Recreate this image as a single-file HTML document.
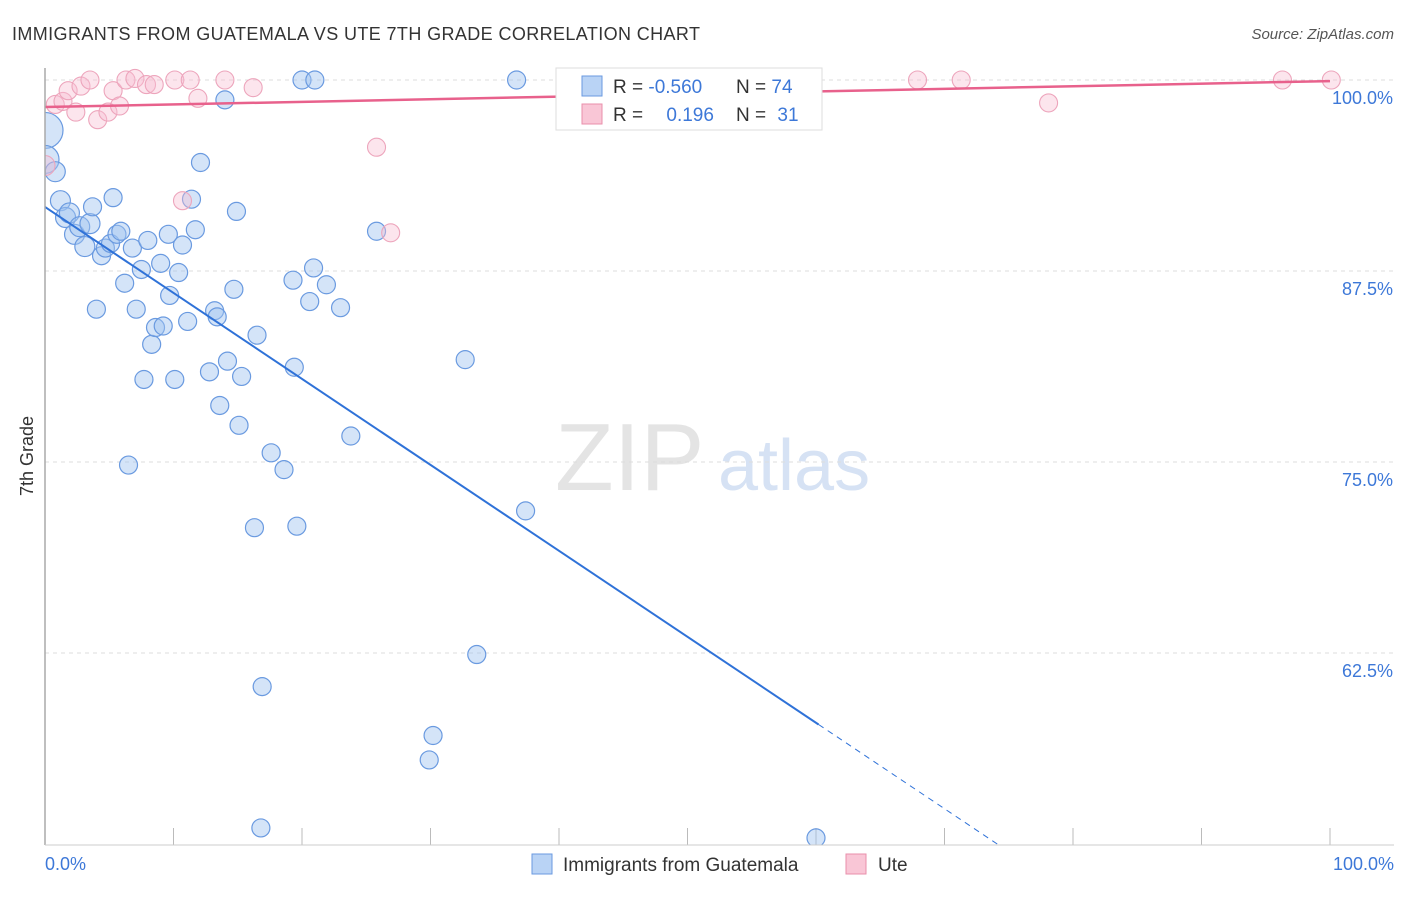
<!DOCTYPE html>
<html><head><meta charset="utf-8"><style>
body{margin:0;background:#fff;font-family:"Liberation Sans",sans-serif}
svg text{font-family:"Liberation Sans",sans-serif}
</style></head><body>
<svg width="1406" height="892" xmlns="http://www.w3.org/2000/svg" id="svg">
<defs><clipPath id="plot"><rect x="45" y="60" width="1360" height="785"/></clipPath></defs>
<text x="12" y="40" font-size="18" fill="#333" textLength="688">IMMIGRANTS FROM GUATEMALA VS UTE 7TH GRADE CORRELATION CHART</text>
<text x="1394" y="39" font-size="15" fill="#555" font-style="italic" text-anchor="end">Source: ZipAtlas.com</text>
<text x="555" y="490" font-size="96" fill="#e4e4e4" font-family="Liberation Serif">ZIP</text>
<text x="718" y="490" font-size="72" fill="#d6e2f4">atlas</text>
<text transform="translate(33,456) rotate(-90)" font-size="18" fill="#333" text-anchor="middle">7th Grade</text>
<g id="grid"></g><g id="pts" clip-path="url(#plot)"></g><g id="lines"></g>
<line x1="45" y1="68" x2="45" y2="845" stroke="#aaa" stroke-width="1.5"/>
<line x1="45" y1="845" x2="1394" y2="845" stroke="#ccc"/>
<text x="45" y="870" font-size="18" fill="#3d78d8">0.0%</text>
<text x="1394" y="870" font-size="18" fill="#3d78d8" text-anchor="end">100.0%</text>
<g>
<rect x="556" y="68" width="266" height="62" fill="#fff" stroke="#ddd"/>
<rect x="582" y="76" width="20" height="20" fill="#b9d3f5" stroke="#6a9ae0"/>
<rect x="582" y="104" width="20" height="20" fill="#f9c6d6" stroke="#e98fab"/>
<text x="613" y="93" font-size="19" fill="#333">R = <tspan fill="#3d78d8">-0.560</tspan></text>
<text x="736" y="93" font-size="19" fill="#333">N = <tspan fill="#3d78d8">74</tspan></text>
<text x="613" y="121" font-size="19" fill="#333">R = <tspan fill="#3d78d8" dx="18">0.196</tspan></text>
<text x="736" y="121" font-size="19" fill="#333">N = <tspan fill="#3d78d8" dx="6">31</tspan></text>
</g>
<g><rect x="532" y="854" width="20" height="20" fill="#b9d3f5" stroke="#6a9ae0"/><text x="563" y="871" font-size="19" fill="#333">Immigrants from Guatemala</text></g>
<g><rect x="846" y="854" width="20" height="20" fill="#f9c6d6" stroke="#e98fab"/><text x="878" y="871" font-size="19" fill="#333">Ute</text></g>
</svg>
<script>
const yTicks=[100,87.5,75,62.5];
const yTickLabels=["100.0%","87.5%","75.0%","62.5%"];
const xTicks=[0,10,20,30,40,50,60,70,80,90,100];
const blueX=[0,0,0.8,1.2,1.6,1.9,2.3,2.7,3.1,3.5,3.7,4.0,4.4,4.7,5.1,5.3,5.6,5.9,6.2,6.5,6.8,7.1,7.5,7.7,8.0,8.3,8.6,9.0,9.2,9.6,9.7,10.1,10.4,10.7,11.1,11.4,11.7,12.1,12.8,13.2,13.4,13.6,14.0,14.2,14.9,14.7,15.1,15.3,16.3,16.5,16.9,16.8,17.6,18.6,19.3,19.4,19.6,20.0,20.6,21.0,20.9,21.9,23.0,23.8,25.8,29.9,30.2,32.7,33.6,36.7,37.4,60.0];
const blueY=[96.7,94.8,94.0,92.1,91.0,91.3,89.9,90.4,89.1,90.6,91.7,85.0,88.5,89.0,89.3,92.3,89.9,90.1,86.7,74.8,89.0,85.0,87.6,80.4,89.5,82.7,83.8,88.0,83.9,89.9,85.9,80.4,87.4,89.2,84.2,92.2,90.2,94.6,80.9,84.9,84.5,78.7,98.7,81.6,91.4,86.3,77.4,80.6,70.7,83.3,60.3,51.05,75.6,74.5,86.9,81.2,70.8,100,85.5,100,87.7,86.6,85.1,76.7,90.1,55.5,57.1,81.7,62.4,100,71.8,50.4];
const blueR=[18,14,10,10,10,10,10,10,10,10,9,9,9,9,9,9,9,9,9,9,9,9,9,9,9,9,9,9,9,9,9,9,9,9,9,9,9,9,9,9,9,9,9,9,9,9,9,9,9,9,9,9,9,9,9,9,9,9,9,9,9,9,9,9,9,9,9,9,9,9,9,9];
const pinkX=[0,0.8,1.4,1.8,2.4,2.8,3.5,4.1,4.9,5.3,5.8,6.3,7.0,7.9,8.5,10.1,11.3,11.9,14.0,16.2,10.7,25.8,26.9,52.4,67.9,71.3,78.1,96.3,100.1];
const pinkY=[94.4,98.4,98.6,99.3,97.9,99.6,100,97.4,97.9,99.3,98.3,100,100.1,99.7,99.7,100,100,98.8,100,99.5,92.1,95.6,90.0,100,100,100,98.5,100,100];
const X=v=>45+v*12.85, Y=v=>80+(100-v)*15.28;
const NS="http://www.w3.org/2000/svg";
function mk(t,a,p){const e=document.createElementNS(NS,t);for(const k in a)e.setAttribute(k,a[k]);document.getElementById(p).appendChild(e);return e;}
yTicks.forEach((t,i)=>{
 const l=mk('line',{x1:45,x2:1394,y1:Y(t),y2:Y(t),stroke:'#ddd','stroke-dasharray':'4,4'},'grid');
 
 
 const tx=mk('text',{x:1393,y:Y(t)+24,'font-size':18,fill:'#3d78d8','text-anchor':'end'},'grid');
 tx.textContent=yTickLabels[i];
 
 
});
xTicks.forEach(t=>{
 const l=mk('line',{x1:X(t),x2:X(t),y1:828,y2:845,stroke:'#bbb'},'grid');
 
 
});
blueX.forEach((x,i)=>{
 const c=mk('circle',{cx:X(x),cy:Y(blueY[i]),r:blueR[i],fill:'rgba(160,195,240,0.45)',stroke:'#6a9ae0','stroke-width':1.2},'pts');
 
 
});
pinkX.forEach((x,i)=>{
 const c=mk('circle',{cx:X(x),cy:Y(pinkY[i]),r:x===0?10:9,fill:'rgba(248,190,210,0.4)',stroke:'#eda5bc','stroke-width':1.1},'pts');
 
 
});
const bA=91.69,bB=-0.5626,pA=98.23,pB=0.017;
let l=mk('line',{x1:X(0),y1:Y(bA),x2:X(60.2),y2:Y(bA+bB*60.2),stroke:'#2f72d8','stroke-width':2},'lines');


const xe=(50-bA)/bB;
l=mk('line',{x1:X(60.2),y1:Y(bA+bB*60.2),x2:X(xe),y2:Y(50),stroke:'#2f72d8','stroke-width':1,'stroke-dasharray':'6,5'},'lines');


l=mk('line',{x1:X(0),y1:Y(pA),x2:X(100),y2:Y(pA+pB*100),stroke:'#e8618c','stroke-width':2.5},'lines');


</script>
</body></html>
